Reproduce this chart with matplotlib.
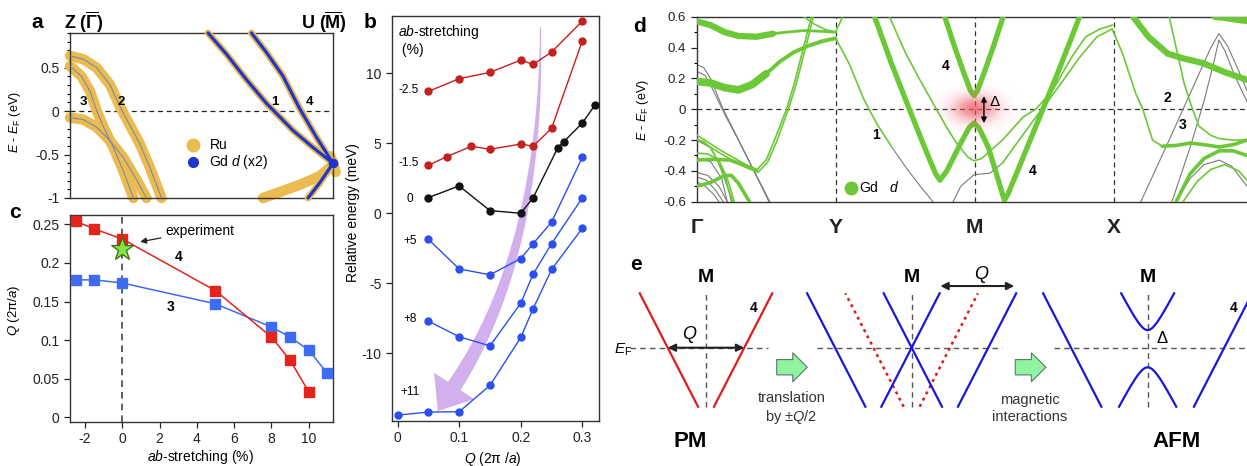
import numpy as np
import matplotlib
matplotlib.use('Agg')
import matplotlib.pyplot as plt
from matplotlib.patches import Polygon, FancyArrow
from matplotlib.ticker import MultipleLocator, FuncFormatter, FixedLocator

plt.rcParams['font.family'] = ['Liberation Sans', 'DejaVu Sans']
plt.rcParams['mathtext.fontset'] = 'custom'
plt.rcParams['mathtext.rm'] = 'Liberation Sans'
plt.rcParams['mathtext.it'] = 'Liberation Sans:italic'
plt.rcParams['mathtext.bf'] = 'Liberation Sans:bold'
plt.rcParams['axes.unicode_minus'] = False

# ---------------- data: panel a (bands, k from Z=0 to U=1, E in eV) ----------------
a_alpha = [[0, 0.051, 0.101, 0.152, 0.190, 0.228, 0.266, 0.304, 0.348],
           [0.637, 0.598, 0.50, 0.305, 0.051, -0.164, -0.379, -0.652, -1.0]]
a_beta = [[0, 0.044, 0.076, 0.101, 0.127, 0.165, 0.203, 0.241],
          [0.52, 0.40, 0.23, 0.01, -0.18, -0.42, -0.69, -1.0]]
a_gamma = [[0, 0.051, 0.101, 0.152, 0.203, 0.253, 0.291],
           [-0.074, -0.098, -0.184, -0.34, -0.535, -0.79, -1.0]]
a_band1 = [[0.525, 0.595, 0.671, 0.747, 0.785, 0.848, 0.924, 1.0],
           [0.90, 0.656, 0.363, 0.09, -0.027, -0.223, -0.418, -0.60]]
a_band4 = [[0.69, 0.747, 0.81, 0.873, 0.937, 1.0],
           [0.90, 0.676, 0.402, 0.031, -0.30, -0.60]]
a_low = [[0.734, 0.785, 0.873, 0.949, 1.0],
         [-1.0, -0.945, -0.848, -0.75, -0.62]]
a_gdlow = [[0.905, 0.949, 1.0], [-1.0, -0.828, -0.60]]
a_stub = [[0.99, 1.0, 1.01], [-0.52, -0.6, -0.70]]

# ---------------- data: panel b ----------------
b_labels = ['-2.5', '-1.5', '0', '+5', '+8', '+11']
b_q = [[0.05, 0.10, 0.15, 0.20, 0.22, 0.25, 0.30],
       [0.05, 0.08, 0.12, 0.15, 0.20, 0.22, 0.25, 0.30],
       [0.05, 0.10, 0.15, 0.20, 0.22, 0.26, 0.27, 0.30, 0.32],
       [0.05, 0.10, 0.15, 0.20, 0.22, 0.25, 0.30],
       [0.05, 0.10, 0.15, 0.20, 0.22, 0.25, 0.30],
       [0.00, 0.05, 0.10, 0.15, 0.20, 0.22, 0.25, 0.30]]
b_e = [[8.71, 9.62, 10.07, 10.95, 10.64, 11.52, 13.74],
       [3.43, 4.05, 4.79, 4.57, 4.95, 4.79, 6.07, 12.33],
       [1.12, 1.95, 0.19, 0.0, 1.10, 4.67, 5.12, 6.45, 7.71],
       [-1.86, -3.98, -4.40, -3.24, -2.17, -0.64, 4.0],
       [-7.71, -8.83, -9.48, -6.43, -4.36, -2.17, 1.10],
       [-14.43, -14.21, -14.19, -12.31, -8.88, -6.83, -4.02, -1.07]]

# ---------------- data: panel c ----------------
c_x_red = [-2.5, -1.5, 0, 5, 8, 9, 10]
c_q_red = [0.254, 0.244, 0.231, 0.164, 0.104, 0.074, 0.033]
c_x_blue = [-2.5, -1.5, 0, 5, 8, 9, 10, 11]
c_q_blue = [0.178, 0.178, 0.174, 0.147, 0.117, 0.104, 0.087, 0.057]
c_exp_x = [0]
c_exp_q = [0.218]

# ---------------- data: panel d (k: G=0, Y=1, M=2, X=3) ----------------
d_kpts = [0, 1, 2, 3]
d_klab = ['Γ', 'Y', 'M', 'X']
dA = [[0, 0.1, 0.2, 0.3, 0.43, 0.55], [0.57, 0.545, 0.5, 0.475, 0.47, 0.49]]
dA2 = [[0.55, 0.65, 0.77, 0.9, 1.0], [0.49, 0.50, 0.51, 0.505, 0.50]]
dB = [[0, 0.1, 0.2, 0.3, 0.4, 0.5], [0.18, 0.17, 0.14, 0.125, 0.16, 0.23]]
dB2 = [[0.5, 0.6, 0.7, 0.8, 0.9, 1.0], [0.23, 0.31, 0.37, 0.41, 0.44, 0.46]]
dC1 = [[0, 0.167, 0.335, 0.43, 0.5, 0.56, 0.646, 0.7, 0.76, 0.825],
       [-0.167, -0.264, -0.35, -0.395, -0.33, -0.2, 0.0, 0.16, 0.37, 0.6]]
dC2 = [[0, 0.167, 0.335, 0.44, 0.51, 0.575, 0.66, 0.715, 0.775, 0.84],
       [-0.19, -0.285, -0.37, -0.41, -0.345, -0.21, 0.0, 0.16, 0.37, 0.6]]
dD = [[0.77, 0.85, 0.93, 1.0], [0.6, 0.55, 0.515, 0.50]]
dD2 = [[1.0, 1.025, 1.05], [0.50, 0.55, 0.6]]
dG1 = [[0, 0.05, 0.1, 0.19, 0.3, 0.4, 0.526], [0.29, 0.27, 0.2, 0.0, -0.197, -0.376, -0.6]]
dG2 = [[0, 0.06, 0.12, 0.2, 0.3, 0.4, 0.52], [0.245, 0.22, 0.12, -0.03, -0.2, -0.38, -0.6]]
dE1 = [[0, 0.05, 0.1, 0.15, 0.2, 0.26], [-0.2, -0.21, -0.25, -0.33, -0.45, -0.6]]
dE2 = [[0, 0.12, 0.24, 0.36, 0.43], [-0.33, -0.325, -0.33, -0.37, -0.395]]
dE3 = [[0, 0.1, 0.2, 0.25, 0.3, 0.38], [-0.5, -0.475, -0.43, -0.43, -0.48, -0.6]]
dE4 = [[0, 0.08, 0.16, 0.22, 0.27], [-0.285, -0.29, -0.33, -0.45, -0.6]]
dGr1 = [[0, 0.08, 0.16, 0.22], [-0.41, -0.43, -0.5, -0.6]]
dGr2 = [[0, 0.07, 0.14, 0.19], [-0.44, -0.46, -0.53, -0.6]]
dGr3 = [[0, 0.06, 0.12, 0.16], [-0.47, -0.5, -0.55, -0.6]]
dGr4 = [[0, 0.1, 0.2, 0.25], [-0.2, -0.25, -0.42, -0.6]]
dGr5 = [[0, 0.1, 0.18, 0.22], [-0.32, -0.34, -0.45, -0.6]]
dL1g = [[1.0, 1.1, 1.2, 1.24, 1.3, 1.4], [0.46, 0.29, 0.07, 0.0, -0.1, -0.24]]
dL1k = [[1.4, 1.5, 1.6, 1.7], [-0.24, -0.37, -0.49, -0.6]]
dT1 = [[1.28, 1.4, 1.53, 1.65, 1.72, 1.75, 1.8, 1.9, 1.96, 1.995, 2.03, 2.1, 2.15, 2.2, 2.215,
        2.24, 2.3, 2.4, 2.5, 2.6, 2.7, 2.755],
       [0.6, 0.3, 0.0, -0.27, -0.42, -0.46, -0.4, -0.22, -0.12, -0.09, -0.12, -0.25, -0.4, -0.55,
        -0.59, -0.55, -0.42, -0.2, 0.02, 0.24, 0.47, 0.6]]
dV4 = [[1.785, 1.85, 1.92, 1.97, 1.995, 2.02, 2.07, 2.14, 2.205],
       [0.6, 0.42, 0.24, 0.12, 0.09, 0.12, 0.24, 0.42, 0.6]]
dT2 = [[1.387, 1.5, 1.6, 1.725, 1.8, 1.87, 1.95, 1.995, 2.05, 2.2, 2.35, 2.44, 2.56, 2.7, 2.8, 2.9, 2.99],
       [0.6, 0.37, 0.2, 0.0, -0.12, -0.22, -0.31, -0.335, -0.32, -0.2, -0.05, 0.0, 0.12, 0.34, 0.47,
        0.52, 0.545]]
dT3k = [[1.845, 1.9, 1.995, 2.11, 2.2], [-0.6, -0.5, -0.425, -0.415, -0.35]]
dT3g = [[2.2, 2.32, 2.45, 2.6, 2.75, 2.88, 2.99], [-0.35, -0.2, -0.04, 0.14, 0.33, 0.47, 0.52]]
dX1 = [[2.99, 3.065, 3.16, 3.21, 3.28, 3.35], [0.52, 0.36, 0.10, 0.0, -0.2, -0.24]]
dW = [[3.35, 3.45, 3.55, 3.65, 3.76, 3.86, 3.96], [-0.24, -0.235, -0.22, -0.23, -0.245, -0.23, -0.2]]
dS = [[3.40, 3.45, 3.507, 3.56, 3.614, 3.7, 3.758, 3.85, 3.96],
      [0.6, 0.4, 0.17, 0.02, -0.11, -0.17, -0.19, -0.2, -0.2]]
dU = [[3.14, 3.25, 3.39, 3.5, 3.64, 3.8, 3.96], [0.6, 0.47, 0.36, 0.33, 0.30, 0.24, 0.19]]
dU2 = [[3.73, 3.8, 3.9, 3.96], [0.6, 0.595, 0.58, 0.575]]
dGx1 = [[3.196, 3.4, 3.6, 3.7, 3.758, 3.82, 3.9, 3.96], [-0.6, -0.2, 0.2, 0.4, 0.49, 0.41, 0.25, 0.12]]
dGx2 = [[3.42, 3.55, 3.65, 3.72, 3.758, 3.8, 3.88, 3.96], [-0.6, -0.25, 0.05, 0.3, 0.45, 0.38, 0.2, 0.05]]
dGx3 = [[3.45, 3.55, 3.65, 3.76, 3.85, 3.96], [-0.6, -0.45, -0.36, -0.33, -0.37, -0.5]]
dBR1 = [[3.45, 3.55, 3.65, 3.76, 3.86, 3.96], [-0.6, -0.42, -0.32, -0.27, -0.27, -0.3]]
dBR2 = [[3.5, 3.6, 3.7, 3.8, 3.9, 3.96], [-0.6, -0.47, -0.39, -0.36, -0.4, -0.46]]

# ---------------- schematic parameters: panel e ----------------
e_Q = 1.0
e_slope = 1.945
e_gap = [0.23, 0.256]
e_top, e_bot = 0.71, -0.77
e_M = [0.0, 2.685, 5.766]

W, H = 1247, 466
fig = plt.figure(figsize=(W / 100, H / 100), dpi=100)


def px_axes(l, t, r, b):
    return fig.add_axes([l / W, 1 - b / H, (r - l) / W, (b - t) / H])


def fmt(v, pos=None):
    return '0' if abs(v) < 1e-9 else ('%g' % v)


def style_axes(ax):
    for s in ax.spines.values():
        s.set_color('#333333')
        s.set_linewidth(1.0)
    ax.tick_params(direction='out', colors='#222222', labelsize=10, width=0.9, length=4)
    ax.tick_params(which='minor', direction='out', length=2.5, width=0.8)


def ftext(x, y, s, **kw):
    fig.text(x / W, 1 - y / H, s, **kw)

# ======================= panel a =======================
axA = px_axes(70, 33, 333, 198)
style_axes(axA)
ru = '#eabb4e'
gd = '#1f35cc'
for band in [a_alpha, a_beta, a_gamma, a_low, a_stub]:
    axA.plot(band[0], band[1], color=ru, lw=7.5, solid_capstyle='round', clip_on=False, zorder=2)
for band in [a_alpha, a_beta, a_gamma]:
    axA.plot(band[0], band[1], color='#7080b8', lw=0.7, clip_on=False, zorder=3)
for band in [a_band1, a_band4, a_gdlow]:
    axA.plot(band[0], band[1], color=ru, lw=5, solid_capstyle='round', clip_on=False, zorder=3)
    axA.plot(band[0], band[1], color=gd, lw=2.3, solid_capstyle='round', clip_on=False, zorder=4)
axA.plot([1.0], [-0.6], 'o', color=gd, ms=6, clip_on=False, zorder=5)
axA.axhline(0, color='#222222', lw=0.9, ls=(0, (4, 3)), zorder=1)
axA.set_xlim(0, 1)
axA.set_ylim(-1, 0.9)
axA.set_xticks([])
axA.yaxis.set_major_locator(FixedLocator([-1, -0.5, 0, 0.5]))
axA.yaxis.set_minor_locator(MultipleLocator(0.1))
axA.yaxis.set_major_formatter(FuncFormatter(fmt))
axA.plot([0.468], [-0.385], 'o', color=ru, ms=9)
axA.plot([0.468], [-0.585], 'o', color=gd, ms=7)
axA.text(0.53, -0.385, 'Ru', fontsize=10, va='center')
axA.text(0.53, -0.585, r'Gd $d$ (x2)', fontsize=10, va='center')
for s, x in zip(['3', '2', '1', '4'], [0.051, 0.196, 0.778, 0.911]):
    axA.text(x, 0.11, s, fontsize=9.5, fontweight='bold', ha='center', va='center')
ftext(15, 122, r'$E$ - $E_{\rm F}$ (eV)', rotation=90, ha='center', va='center', fontsize=9)
ftext(37, 22, 'a', fontsize=15, fontweight='bold', ha='center', va='center')
ftext(84, 22, r'Z ($\overline{\mathbf{\Gamma}}$)', fontsize=13, fontweight='bold', ha='center', va='center')
ftext(324, 22, r'U ($\overline{\mathbf{M}}$)', fontsize=13, fontweight='bold', ha='center', va='center')

# ======================= panel c =======================
axC = px_axes(70, 215, 333, 422)
style_axes(axC)
red_c = '#e5231d'
blue_c = '#3d6cf2'
axC.axvline(0, color='#444444', lw=1.2, ls=(0, (4, 3)), zorder=1)
axC.plot(c_x_blue, c_q_blue, '-s', color=blue_c, lw=1.1, ms=6.5, zorder=3)
axC.plot(c_x_red, c_q_red, '-s', color=red_c, lw=1.1, ms=6.5, zorder=4)
axC.plot(c_exp_x, c_exp_q, '*', ms=17, mfc='#80e63c', mec='#3d6a1c', mew=0.9, zorder=5)
axC.set_xlim(-2.8, 11.3)
axC.set_ylim(-0.006, 0.262)
axC.set_xticks([-2, 0, 2, 4, 6, 8, 10])
axC.set_yticks([0, 0.05, 0.1, 0.15, 0.2, 0.25])
axC.yaxis.set_major_formatter(FuncFormatter(fmt))
axC.annotate('experiment', xy=(0.96, 0.2273), xytext=(2.3, 0.2415), fontsize=10,
             va='center', ha='left',
             arrowprops=dict(arrowstyle='-|>', color='#222222', lw=0.9, mutation_scale=9,
                             shrinkA=1, shrinkB=0))
axC.text(3.01, 0.207, '4', fontsize=10, fontweight='bold', ha='center', va='center')
axC.text(2.57, 0.143, '3', fontsize=10, fontweight='bold', ha='center', va='center')
ftext(15, 213, 'c', fontsize=15, fontweight='bold', ha='center', va='center')
ftext(14, 310, r'$Q$ (2π/$a$)', rotation=90, ha='center', va='center', fontsize=9.5)
ftext(200, 457, r'$ab$-stretching (%)', ha='center', va='center', fontsize=10)

# ======================= panel b =======================
axB = px_axes(392, 16, 599, 421)
style_axes(axB)
axB.set_xlim(-0.009, 0.327)
axB.set_ylim(-14.85, 14.1)
axB.set_xticks([0, 0.1, 0.2, 0.3])
axB.set_yticks([-10, -5, 0, 5, 10])
axB.xaxis.set_major_formatter(FuncFormatter(fmt))
axB.yaxis.set_major_formatter(FuncFormatter(fmt))
b_colors = ['#c3201e', '#c3201e', '#111111', '#2b4ff0', '#2b4ff0', '#2b4ff0']
for q, e, c in zip(b_q, b_e, b_colors):
    axB.plot(q, e, '-o', color=c, lw=1.0, ms=5, zorder=3)
b_lab_pos = [(0.018, 8.8), (0.018, 3.57), (0.02, 1.0), (0.02, -1.95), (0.02, -7.55), (0.02, -12.76)]
for lab, (x, y) in zip(b_labels, b_lab_pos):
    axB.text(x, y, lab, fontsize=8.5, ha='center', va='center')
axB.text(0.0015, 13.6, r'$ab$-stretching' + '\n (%)', fontsize=10, ha='left', va='top', linespacing=1.2)


def tapered_arrow(ax, p0, p1, p2, w0, w1, head_len, head_w, color, alpha):
    T = ax.transData
    P0, P1, P2 = [np.array(T.transform(p)) for p in (p0, p1, p2)]
    t = np.linspace(0, 1, 80)[:, None]
    pts = (1 - t) ** 2 * P0 + 2 * (1 - t) * t * P1 + t ** 2 * P2
    d = np.gradient(pts, axis=0)
    d /= np.linalg.norm(d, axis=1)[:, None]
    n = np.stack([-d[:, 1], d[:, 0]], axis=1)
    w = (w0 + (w1 - w0) * t[:, 0])[:, None] / 2
    left = pts + n * w
    right = pts - n * w
    tip = P2 + d[-1] * head_len
    hl = P2 + n[-1] * head_w / 2
    hr = P2 - n[-1] * head_w / 2
    poly = np.vstack([left, hl, tip, hr, right[::-1]])
    poly = T.inverted().transform(poly)
    ax.add_patch(Polygon(poly, closed=True, facecolor=color, edgecolor='none', alpha=alpha, zorder=2))


tapered_arrow(axB, (0.232, 13.3), (0.235, -2.9), (0.092, -12.35), 1.0, 15.0, 30, 48, '#c9a2ea', 0.85)
ftext(353, 213, 'Relative energy (meV)', rotation=90, ha='center', va='center', fontsize=10)
ftext(493, 459, r'$Q$ (2π /$a$)', ha='center', va='center', fontsize=10)
ftext(370, 23, 'b', fontsize=15, fontweight='bold', ha='center', va='center')

# ======================= panel d =======================
axD = px_axes(696.7, 16.7, 1247, 201.7)
style_axes(axD)
axD.spines['right'].set_visible(False)
green = '#6cc836'
grey = '#7a7a7a'
thick = [(dA, 4.5), (dB, 5.5), (dT1, 3.8), (dV4, 3.8), (dU, 4.5), (dU2, 5)]
medium = [(dA2, 2.0), (dB2, 2.8), (dE2, 2.6), (dE3, 2.6), (dW, 2.6), (dBR1, 2.6)]
thin = [dC1, dC2, dD, dD2, dE1, dE4, dL1g, dT2, dT3g, dX1, dS, dBR2]
greys = [dG1, dG2, dGr1, dGr2, dGr3, dGr4, dGr5, dL1k, dT3k, dGx1, dGx2, dGx3]
for b in greys:
    axD.plot(b[0], b[1], color=grey, lw=0.8, zorder=2)
for b in thin:
    axD.plot(b[0], b[1], color=green, lw=1.2, zorder=3)
for b, lw in medium:
    axD.plot(b[0], b[1], color=green, lw=lw, solid_capstyle='round', zorder=3)
for b, lw in thick:
    axD.plot(b[0], b[1], color=green, lw=lw, solid_capstyle='round', zorder=4)
axD.axhline(0, color='#333333', lw=0.9, ls=(0, (4, 3)), zorder=1)
for k in d_kpts[1:]:
    axD.axvline(k, color='#333333', lw=0.9, ls=(0, (4, 3)), zorder=1)
# red glow around the gap at M
gk = np.linspace(1.6, 2.4, 160)
ge = np.linspace(-0.3, 0.3, 120)
GK, GE = np.meshgrid(gk, ge)
alpha_map = 0.75 * np.exp(-((GK - 2.0) / 0.11) ** 2 / 2 - (GE / 0.06) ** 2 / 2)
rgba = np.zeros(GK.shape + (4,))
rgba[..., 0] = 0.93
rgba[..., 1] = 0.33
rgba[..., 2] = 0.38
rgba[..., 3] = alpha_map
axD.imshow(rgba, extent=[1.6, 2.4, -0.3, 0.3], origin='lower', aspect='auto', zorder=5,
           interpolation='bilinear')
axD.annotate('', xy=(2.067, 0.085), xytext=(2.067, -0.09),
             arrowprops=dict(arrowstyle='<|-|>', color='black', lw=1.0, mutation_scale=8,
                             shrinkA=0, shrinkB=0), zorder=6)
axD.text(2.145, 0.045, 'Δ', fontsize=11, ha='center', va='center', zorder=6)
axD.set_xlim(0, 3.96)
axD.set_ylim(-0.6, 0.6)
axD.set_yticks([-0.6, -0.4, -0.2, 0, 0.2, 0.4, 0.6])
axD.yaxis.set_minor_locator(MultipleLocator(0.1))
axD.yaxis.set_major_formatter(FuncFormatter(fmt))
axD.tick_params(axis='y', labelsize=9.5)
axD.set_xticks(d_kpts)
axD.set_xticklabels(d_klab, fontsize=15, fontweight='bold')
axD.tick_params(axis='x', length=0, pad=12)
axD.plot([1.11], [-0.51], 'o', color=green, ms=9, zorder=6)
axD.text(1.17, -0.51, r'Gd   $d$', fontsize=10, va='center', zorder=6)
for s, x, y in [('1', 1.29, -0.165), ('4', 1.79, 0.28), ('4', 2.42, -0.40), ('2', 3.39, 0.07), ('3', 3.5, -0.10)]:
    axD.text(x, y, s, fontsize=10, fontweight='bold', ha='center', va='center', zorder=6)
ftext(643, 110, r'$E$ - $E_{\rm F}$ (eV)', rotation=90, ha='center', va='center', fontsize=9)
ftext(639, 27, 'd', fontsize=15, fontweight='bold', ha='center', va='center')

# ======================= panel e (schematic) =======================
axE = px_axes(630, 255, 1247, 466)
axE.set_xlim(-0.992, 7.063)
axE.set_ylim(-1.544, 1.21)
axE.axis('off')
red_e = '#e21a1a'
blue_e = '#1717e0'
dash = dict(color='#555555', lw=1.0, ls=(0, (4, 3)), zorder=1)
Eline = np.array([e_bot, e_top])


def vband(ax, k0, sign, **kw):
    ax.plot(k0 + sign * Eline / e_slope, Eline, **kw)


for (x0, x1) in [(-0.992, 0.81), (1.445, 3.864), (4.539, 7.06)]:
    axE.plot([x0, x1], [0, 0], **dash)
for M in e_M:
    axE.plot([M, M], [e_bot, e_top], **dash)
    axE.text(M, 0.91, 'M', fontsize=14, fontweight='bold', ha='center', va='center')
# PM
M0 = e_M[0]
vband(axE, M0 - e_Q / 2, -1, color=red_e, lw=1.6)
vband(axE, M0 + e_Q / 2, +1, color=red_e, lw=1.6)
axE.annotate('', xy=(M0 - e_Q / 2, 0), xytext=(M0 + e_Q / 2, 0),
             arrowprops=dict(arrowstyle='<|-|>', color='#222222', lw=1.5, mutation_scale=11,
                             shrinkA=0, shrinkB=0))
axE.text(-0.21, 0.17, r'$Q$', fontsize=13, ha='center', va='center')
axE.text(0.617, 0.514, '4', fontsize=10, fontweight='bold', ha='center', va='center')
axE.text(-0.21, -1.227, 'PM', fontsize=16, fontweight='bold', ha='center', va='center')
axE.text(-1.08, -0.03, r'$E_{\rm F}$', fontsize=11, ha='center', va='center', clip_on=False)
# translation
M1 = e_M[1]
vband(axE, M1 - e_Q / 2, -1, color=red_e, lw=1.8, ls=(0, (1.2, 1.6)))
vband(axE, M1 + e_Q / 2, +1, color=red_e, lw=1.8, ls=(0, (1.2, 1.6)))
for k0, sg in [(M1 - e_Q, -1), (M1, -1), (M1, +1), (M1 + e_Q, +1)]:
    vband(axE, k0, sg, color=blue_e, lw=1.6)
axE.annotate('', xy=(3.059, 0.805), xytext=(3.059 + e_Q * 0.966, 0.805),
             arrowprops=dict(arrowstyle='<|-|>', color='#222222', lw=1.5, mutation_scale=11,
                             shrinkA=0, shrinkB=0))
axE.text(3.60, 0.96, r'$Q$', fontsize=13, ha='center', va='center')
# AFM
M2 = e_M[2]
vband(axE, M2 - e_Q, -1, color=blue_e, lw=1.6)
vband(axE, M2 + e_Q, +1, color=blue_e, lw=1.6)
ku = np.sqrt(e_top ** 2 - e_gap[0] ** 2) / e_slope
kk = np.linspace(-ku, ku, 100)
axE.plot(M2 + kk, np.sqrt(e_gap[0] ** 2 + (e_slope * kk) ** 2), color=blue_e, lw=1.6)
kl = np.sqrt(e_bot ** 2 - e_gap[1] ** 2) / e_slope
kk = np.linspace(-kl, kl, 100)
axE.plot(M2 + kk, -np.sqrt(e_gap[1] ** 2 + (e_slope * kk) ** 2), color=blue_e, lw=1.6)
axE.text(5.953, 0.123, 'Δ', fontsize=12, ha='center', va='center')
axE.text(6.889, 0.514, '4', fontsize=10, fontweight='bold', ha='center', va='center')
axE.text(6.149, -1.227, 'AFM', fontsize=16, fontweight='bold', ha='center', va='center')
# green block arrows + captions
for x0, cap in [(0.923, 'translation\n' + r'by $\pm Q$/2'), (4.038, 'magnetic\ninteractions')]:
    axE.add_patch(FancyArrow(x0, -0.255, 0.40, 0, width=0.2, head_width=0.38, head_length=0.19,
                             length_includes_head=True, facecolor='#8ff3a0', edgecolor='#5c7a62', lw=0.8))
    axE.text(x0 + 0.19, -0.79, cap, fontsize=10.5, ha='center', va='center', color='#333333',
             linespacing=1.25)
ftext(636, 265, 'e', fontsize=15, fontweight='bold', ha='center', va='center')

fig.savefig('out.png', dpi=100)
